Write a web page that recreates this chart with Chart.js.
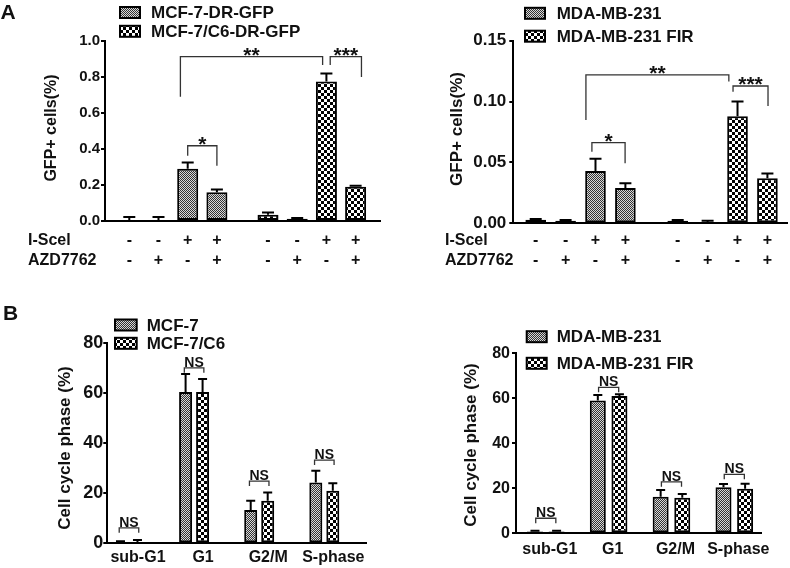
<!DOCTYPE html>
<html>
<head>
<meta charset="utf-8">
<script src="https://cdn.jsdelivr.net/npm/chart.js@4.4.0/dist/chart.umd.min.js"></script>
<style>
  body { margin: 0; background: #fff; }
  #wrap { position: relative; width: 790px; height: 568px; overflow: hidden; }
  canvas { position: absolute; }
</style>
</head>
<body>
<div id="wrap">
  <canvas id="chartA1" width="390" height="292" style="left:0;top:0"></canvas>
  <canvas id="chartA2" width="400" height="292" style="left:390px;top:0"></canvas>
  <canvas id="chartB1" width="390" height="273" style="left:0;top:295px"></canvas>
  <canvas id="chartB2" width="400" height="273" style="left:390px;top:295px"></canvas>
</div>
<script>
// ---- data ----
// panel A: GFP+ cells, 8 conditions, first four = parental line, last four = resistant line
const iScel = ['-', '-', '+', '+', '-', '-', '+', '+'];
const azd7762 = ['-', '+', '-', '+', '-', '+', '-', '+'];
const aSlots = [1, 2, 3, 4, 5.75, 6.75, 7.75, 8.75];

const mcfDR = [0.002, 0.002, 0.29, 0.16];
const mcfDRErr = [0.02, 0.02, 0.035, 0.015];
const mcfC6DR = [0.035, 0.012, 0.775, 0.19];
const mcfC6DRErr = [0.012, 0.005, 0.045, 0.006];

const mda = [0.003, 0.002, 0.043, 0.029];
const mdaErr = [0.0005, 0.0008, 0.010, 0.004];
const mdaFir = [0.002, 0.001, 0.088, 0.037];
const mdaFirErr = [0.0008, 0.001, 0.012, 0.004];

// panel B: cell cycle phases
const phases = ['sub-G1', 'G1', 'G2/M', 'S-phase'];
const mcf7 = [0.5, 60.5, 13.3, 24.3];
const mcf7Err = [0.3, 7.2, 3.7, 4.7];
const mcf7c6 = [0.5, 60.5, 17.0, 21.0];
const mcf7c6Err = [0.8, 5.2, 3.3, 3.0];

const mdaCycle = [0.8, 59.0, 16.3, 20.5];
const mdaCycleErr = [0.3, 2.5, 3.0, 1.4];
const mdaFirCycle = [0.8, 61.0, 15.8, 19.8];
const mdaFirCycleErr = [0.3, 0.8, 1.7, 2.2];

// significance brackets (x in slot units, y in data units)
const aLeftSig = [
  { x1: 3, x2: 4, y: 0.418, l1: 0.363, l2: 0.307, text: '*' },
  { x1: 2.75, x2: 7.62, y: 0.913, l1: 0.69, l2: 0.867, text: '**' },
  { x1: 7.88, x2: 8.95, y: 0.913, l1: 0.867, l2: 0.80, text: '***' }
];
const aRightSig = [
  { x1: 2.88, x2: 3.99, y: 0.0662, l1: 0.0588, l2: 0.0493, text: '*' },
  { x1: 2.68, x2: 7.46, y: 0.1219, l1: 0.0849, l2: 0.1164, text: '**' },
  { x1: 7.6, x2: 8.77, y: 0.1128, l1: 0.1081, l2: 0.0964, text: '***' }
];
const bLeftNS = [6.2, 70.2, 24.9, 33.3];
const bRightNS = [6.7, 64.9, 22.9, 26.2];

// ---- styling helpers ----
const FONT = '"Liberation Sans", Arial, sans-serif';
Chart.defaults.font.family = FONT;
Chart.defaults.font.weight = 'bold';
Chart.defaults.color = '#111';

function makePattern(size, draw) {
  const c = document.createElement('canvas');
  c.width = c.height = size;
  const g = c.getContext('2d');
  draw(g, size);
  return g.createPattern(c, 'repeat');
}
const fineDots = makePattern(2, g => {
  g.fillStyle = '#d8d8d8'; g.fillRect(0, 0, 2, 2);
  g.fillStyle = '#333'; g.fillRect(0, 0, 1, 1); g.fillRect(1, 1, 1, 1);
});
const checker = makePattern(6, g => {
  g.fillStyle = '#fff'; g.fillRect(0, 0, 6, 6);
  g.fillStyle = '#000'; g.fillRect(0, 0, 3, 3); g.fillRect(3, 3, 3, 3);
});

function toPoints(xs, ys) {
  return ys.map((v, i) => ({ x: xs[i], y: v }));
}

function yAxis(max, step, digits, size, width, pad) {
  return {
    min: 0, max: max,
    ticks: { stepSize: step, font: { size: size }, padding: pad, callback: v => v.toFixed(digits) },
    grid: { display: true, drawOnChartArea: false, drawTicks: true, tickLength: 4, color: '#000', lineWidth: 2 },
    border: { display: true, color: '#000', width: 2 },
    afterFit: s => { s.width = width; }
  };
}

// draws error bars, brackets, legend, titles and the +/- rows
function extras(cfg) {
  return {
    id: 'extras',
    afterDatasetsDraw(chart) {
      const ctx = chart.ctx, xs = chart.scales.x, ys = chart.scales.y;
      ctx.save();
      ctx.strokeStyle = '#000';
      ctx.lineWidth = 2;
      cfg.series.forEach((s, d) => {
        const meta = chart.getDatasetMeta(d);
        meta.data.forEach((bar, i) => {
          const top = ys.getPixelForValue(s.vals[i] + s.errs[i]);
          ctx.beginPath();
          ctx.moveTo(bar.x, bar.y);
          ctx.lineTo(bar.x, top);
          ctx.moveTo(bar.x - cfg.cap / 2, top);
          ctx.lineTo(bar.x + cfg.cap / 2, top);
          ctx.stroke();
        });
      });
      ctx.lineWidth = 1.3;
      ctx.strokeStyle = '#333';
      ctx.fillStyle = '#111';
      ctx.textAlign = 'center';
      (cfg.sig || []).forEach(b => {
        const x1 = xs.getPixelForValue(b.x1), x2 = xs.getPixelForValue(b.x2);
        const y = ys.getPixelForValue(b.y);
        ctx.beginPath();
        ctx.moveTo(x1, ys.getPixelForValue(b.l1));
        ctx.lineTo(x1, y);
        ctx.lineTo(x2, y);
        ctx.lineTo(x2, ys.getPixelForValue(b.l2));
        ctx.stroke();
        ctx.font = 'bold 21px ' + FONT;
        ctx.textBaseline = 'alphabetic';
        ctx.fillText(b.text, (x1 + x2) / 2, y + 5);
      });
      (cfg.ns || []).forEach((lvl, i) => {
        const x1 = xs.getPixelForValue(i + 1 - cfg.nsHalf), x2 = xs.getPixelForValue(i + 1 + cfg.nsHalf);
        const y = ys.getPixelForValue(lvl);
        ctx.beginPath();
        ctx.moveTo(x1, y + 5);
        ctx.lineTo(x1, y);
        ctx.lineTo(x2, y);
        ctx.lineTo(x2, y + 5);
        ctx.stroke();
        ctx.font = 'bold 14px ' + FONT;
        ctx.textBaseline = 'alphabetic';
        ctx.fillText('NS', (x1 + x2) / 2, y - 1);
      });
      ctx.restore();
    },
    afterDraw(chart) {
      const ctx = chart.ctx, xs = chart.scales.x;
      ctx.save();
      ctx.fillStyle = '#111';
      // legend
      const L = cfg.legend;
      chart.data.datasets.forEach((ds, i) => {
        const y = L.rows[i];
        ctx.fillStyle = ds.backgroundColor;
        ctx.fillRect(L.x, y - L.h / 2, L.w, L.h);
        ctx.strokeStyle = '#000';
        ctx.lineWidth = 2;
        ctx.strokeRect(L.x, y - L.h / 2, L.w, L.h);
        ctx.fillStyle = '#111';
        ctx.font = 'bold 17px ' + FONT;
        ctx.textAlign = 'left';
        ctx.textBaseline = 'middle';
        ctx.fillText(ds.label, L.x + L.gap, y + 1);
      });
      // y title
      const T = cfg.title;
      ctx.save();
      ctx.translate(T.x, T.y);
      ctx.rotate(-Math.PI / 2);
      ctx.font = 'bold ' + T.size + 'px ' + FONT;
      ctx.textAlign = 'center';
      ctx.textBaseline = 'middle';
      ctx.fillText(T.text, 0, 0);
      ctx.restore();
      // +/- rows
      if (cfg.signs) {
        const S = cfg.signs;
        ctx.font = 'bold 16px ' + FONT;
        ctx.textBaseline = 'middle';
        S.rows.forEach((row, r) => {
          ctx.textAlign = 'left';
          ctx.fillText(S.names[r], S.labelX, S.ys[r]);
          ctx.textAlign = 'center';
          row.forEach((s, i) => ctx.fillText(s, xs.getPixelForValue(S.slots[i]), S.ys[r]));
        });
      }
      if (cfg.letter) {
        ctx.font = 'bold 21px ' + FONT;
        ctx.textAlign = 'left';
        ctx.textBaseline = 'alphabetic';
        ctx.fillText(cfg.letter.text, cfg.letter.x, cfg.letter.y);
      }
      ctx.restore();
    }
  };
}

function gfpChart(id, o) {
  return new Chart(document.getElementById(id).getContext('2d'), {
    type: 'bar',
    data: {
      datasets: [
        { label: o.names[0], data: toPoints(aSlots.slice(0, 4), o.s1), backgroundColor: fineDots },
        { label: o.names[1], data: toPoints(aSlots.slice(4), o.s2), backgroundColor: checker }
      ].map(ds => Object.assign(ds, {
        borderColor: '#000', borderWidth: 2, borderSkipped: false, grouped: false,
        barPercentage: o.barPct, categoryPercentage: 1
      }))
    },
    options: {
      responsive: false,
      animation: false,
      layout: { padding: o.padding },
      plugins: { legend: { display: false }, tooltip: { enabled: false } },
      scales: {
        x: {
          type: 'linear', min: o.xMin, max: o.xMax, offset: false,
          afterBuildTicks: s => { s.ticks = aSlots.map(v => ({ value: v })); },
          ticks: { display: false },
          grid: { display: false, drawTicks: false, offset: false },
          border: { display: true, color: '#000', width: 2 },
          afterFit: s => { s.height = 0; }
        },
        y: o.y
      }
    },
    plugins: [extras(o.extras)]
  });
}

function cycleChart(id, o) {
  return new Chart(document.getElementById(id).getContext('2d'), {
    type: 'bar',
    data: {
      datasets: [
        { label: o.names[0], data: toPoints([1, 2, 3, 4], o.s1), backgroundColor: fineDots },
        { label: o.names[1], data: toPoints([1, 2, 3, 4], o.s2), backgroundColor: checker }
      ].map(ds => Object.assign(ds, {
        borderColor: '#000', borderWidth: 2, borderSkipped: false,
        barPercentage: o.barPct, categoryPercentage: o.catPct
      }))
    },
    options: {
      responsive: false,
      animation: false,
      layout: { padding: o.padding },
      plugins: { legend: { display: false }, tooltip: { enabled: false } },
      scales: {
        x: {
          type: 'linear', min: o.xMin, max: o.xMax, offset: false,
          afterBuildTicks: s => { s.ticks = phases.map((p, i) => ({ value: i + 1 })); },
          ticks: { font: { size: 16 }, padding: o.labelPad, labelOffset: o.labelOffset,
                   autoSkip: false, maxRotation: 0, callback: v => phases[v - 1] },
          grid: { display: false, drawTicks: false, offset: false },
          border: { display: true, color: '#000', width: 2 },
          afterFit: s => { s.height = o.xHeight; }
        },
        y: yAxis(80, 20, 0, o.tickSize, o.yWidth, o.tickPad)
      }
    },
    plugins: [extras(o.extras)]
  });
}

gfpChart('chartA1', {
  names: ['MCF-7-DR-GFP', 'MCF-7/C6-DR-GFP'],
  s1: mcfDR, s2: mcfC6DR, barPct: 0.72,
  xMin: 0.168, xMax: 9.585,
  padding: { left: 0, right: 10, top: 41, bottom: 71 },
  y: yAxis(1, 0.2, 1, 15, 105, 1),
  extras: {
    series: [{ vals: mcfDR, errs: mcfDRErr }, { vals: mcfC6DR, errs: mcfC6DRErr }],
    cap: 12, sig: aLeftSig,
    legend: { x: 120, rows: [12.5, 31.3], w: 20, h: 11, gap: 31 },
    title: { text: 'GFP+ cells(%)', x: 52, y: 128, size: 16 },
    signs: { names: ['I-Scel', 'AZD7762'], rows: [iScel, azd7762], slots: aSlots, labelX: 28, ys: [241, 261] },
    letter: { text: 'A', x: 0.5, y: 19 }
  }
});

gfpChart('chartA2', {
  names: ['MDA-MB-231', 'MDA-MB-231 FIR'],
  s1: mda, s2: mdaFir, barPct: 0.69,
  xMin: 0.251, xMax: 9.405,
  padding: { left: 0, right: 3, top: 40.7, bottom: 68.7 },
  y: yAxis(0.15, 0.05, 2, 17, 123.3, 3),
  extras: {
    series: [{ vals: mda, errs: mdaErr }, { vals: mdaFir, errs: mdaFirErr }],
    cap: 12, sig: aRightSig,
    legend: { x: 135, rows: [13.3, 36.2], w: 20, h: 11, gap: 31.7 },
    title: { text: 'GFP+ cells(%)', x: 67.5, y: 129, size: 17 },
    signs: { names: ['I-Scel', 'AZD7762'], rows: [iScel, azd7762], slots: aSlots, labelX: 55, ys: [241, 261] }
  }
});

cycleChart('chartB1', {
  names: ['MCF-7', 'MCF-7/C6'],
  s1: mcf7, s2: mcf7c6, catPct: 0.522, barPct: 0.765,
  xMin: 0.667, xMax: 4.651, xHeight: 24.7, labelPad: 5, labelOffset: 9,
  padding: { left: 0, right: 23.3, top: 48.3, bottom: 0 },
  tickSize: 18, yWidth: 107.3, tickPad: 0,
  extras: {
    series: [{ vals: mcf7, errs: mcf7Err }, { vals: mcf7c6, errs: mcf7c6Err }],
    cap: 9, ns: bLeftNS, nsHalf: 0.15,
    legend: { x: 115, rows: [30, 48.3], w: 21.7, h: 11, gap: 31.7 },
    title: { text: 'Cell cycle phase (%)', x: 65.7, y: 153, size: 17 },
    letter: { text: 'B', x: 3, y: 25 }
  }
});

cycleChart('chartB2', {
  names: ['MDA-MB-231', 'MDA-MB-231 FIR'],
  s1: mdaCycle, s2: mdaFirCycle, catPct: 0.688, barPct: 0.74,
  xMin: 0.526, xMax: 4.436, xHeight: 34.7, labelPad: 7, labelOffset: 4,
  padding: { left: 0, right: 28.3, top: 58.3, bottom: 0 },
  tickSize: 16, yWidth: 126, tickPad: 2,
  extras: {
    series: [{ vals: mdaCycle, errs: mdaCycleErr }, { vals: mdaFirCycle, errs: mdaFirCycleErr }],
    cap: 9, ns: bRightNS, nsHalf: 0.16,
    legend: { x: 136.7, rows: [41.7, 68.3], w: 20, h: 11, gap: 30 },
    title: { text: 'Cell cycle phase (%)', x: 81.7, y: 150, size: 17 }
  }
});
</script>
</body>
</html>
